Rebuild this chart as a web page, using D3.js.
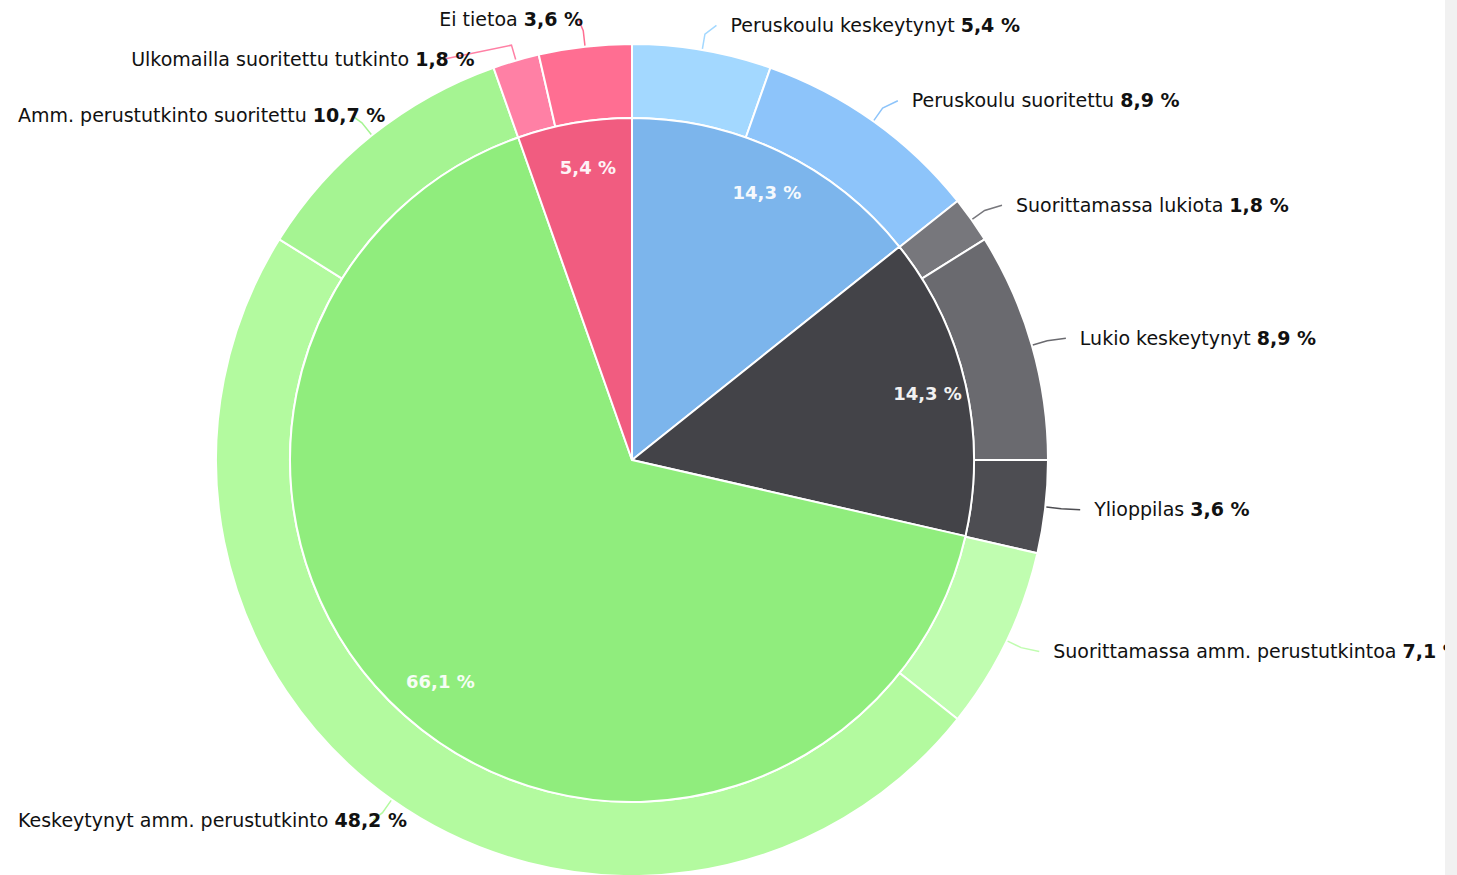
<!DOCTYPE html>
<html>
<head>
<meta charset="utf-8">
<script src="https://cdn.jsdelivr.net/npm/d3@7"></script>
<style>
  html, body { margin: 0; padding: 0; background: #fff; overflow: hidden; }
  svg { display: block; }
  text { font-family: "DejaVu Sans", Verdana, sans-serif; }
</style>
</head>
<body>
<svg id="chart" width="1457" height="875"></svg>
<script>
// ---- data ----
const innerNames = ["Peruskoulu", "Lukio", "Ammatillinen", "Muu"];
const innerValues = [14.3, 14.3, 66.1, 5.4];
const innerColors = ["#7cb5ec", "#434348", "#90ed7d", "#f15c80"];

const outerNames = [
  "Peruskoulu keskeytynyt", "Peruskoulu suoritettu",
  "Suorittamassa lukiota", "Lukio keskeytynyt", "Ylioppilas",
  "Suorittamassa amm. perustutkintoa", "Keskeytynyt amm. perustutkinto", "Amm. perustutkinto suoritettu",
  "Ulkomailla suoritettu tutkinto", "Ei tietoa"
];
const outerValues = [5.4, 8.9, 1.8, 8.9, 3.6, 7.1, 48.2, 10.7, 1.8, 3.6];
const outerColors = ["#a3d8ff", "#8dc4fa", "#77777c", "#6a6a6f", "#4d4d52",
                     "#c0fdb0", "#b3fa9f", "#a5f492", "#ff80a5", "#ff6e92"];

// ---- layout ----
const W = 1457, H = 875;
const cx = 632, cy = 460;
const rInner = 342, rOuter = 416, rLabel = 441;
const fontSize = 19, innerFontSize = 18;
const fmt = v => d3.format(".1f")(v).replace(".", ",") + " %";

const svg = d3.select("#chart");
const g = svg.append("g").attr("transform", `translate(${cx},${cy})`);

const pie = d3.pie().sort(null).value(d => d);
const innerArcs = pie(innerValues);
const outerArcs = pie(outerValues);

const arcIn = d3.arc().innerRadius(0).outerRadius(rInner);
const arcOut = d3.arc().innerRadius(rInner).outerRadius(rOuter);

g.selectAll("path.outer").data(outerArcs).join("path")
  .attr("class", "outer")
  .attr("d", arcOut)
  .attr("fill", (d, i) => outerColors[i])
  .attr("stroke", "#fff").attr("stroke-width", 2).attr("stroke-linejoin", "round");

g.selectAll("path.inner").data(innerArcs).join("path")
  .attr("class", "inner")
  .attr("d", arcIn)
  .attr("fill", (d, i) => innerColors[i])
  .attr("stroke", "#fff").attr("stroke-width", 2).attr("stroke-linejoin", "round");

// inner labels
const rInLab = 297;
g.selectAll("text.inlab").data(innerArcs).join("text")
  .attr("class", "inlab")
  .attr("x", d => Math.sin((d.startAngle + d.endAngle) / 2) * rInLab + 6)
  .attr("y", d => -Math.cos((d.startAngle + d.endAngle) / 2) * rInLab)
  .attr("dy", "0.35em")
  .attr("text-anchor", "middle")
  .attr("font-size", innerFontSize)
  .attr("font-weight", "bold")
  .attr("fill", "#ffffff")
  .attr("opacity", 0.93)
  .text(d => fmt(d.data));

// outer labels: natural positions + distribution
const labels = outerArcs.map((d, i) => {
  const a = (d.startAngle + d.endAngle) / 2;
  return {
    i, a,
    left: Math.sin(a) < 0,
    midX: cx + Math.sin(a) * rLabel,
    natY: cy - Math.cos(a) * rLabel
  };
});

function distribute(list, gap, minY, maxY) {
  list.sort((p, q) => p.natY - q.natY);
  let clusters = list.map(l => ({ items: [l] }));
  const place = c => {
    const n = c.items.length;
    const mean = d3.mean(c.items, l => l.natY);
    let start = mean - (n - 1) * gap / 2;
    start = Math.max(minY, Math.min(start, maxY - (n - 1) * gap));
    c.start = start; c.end = start + (n - 1) * gap;
  };
  clusters.forEach(place);
  let merged = true;
  while (merged) {
    merged = false;
    for (let k = 0; k < clusters.length - 1; k++) {
      if (clusters[k].end + gap > clusters[k + 1].start) {
        clusters[k].items = clusters[k].items.concat(clusters[k + 1].items);
        clusters.splice(k + 1, 1);
        place(clusters[k]);
        merged = true;
        break;
      }
    }
  }
  clusters.forEach(c => c.items.forEach((l, j) => { l.y = c.start + j * gap; }));
}
distribute(labels.filter(l => l.left), 40, 19, H - 19);
distribute(labels.filter(l => !l.left), 40, 19, H - 19);

labels.forEach(l => {
  const dy = l.y - cy;
  const half = Math.abs(dy) < rLabel ? Math.sqrt(rLabel * rLabel - dy * dy) : 0;
  if (l.left) {
    l.connX = Math.min(cx - half, l.midX);
  } else {
    l.connX = Math.max(cx + half, l.midX);
  }
});

const lg = svg.append("g");
// connectors
labels.forEach(l => {
  const p0 = [cx + Math.sin(l.a) * (rOuter + 1), cy - Math.cos(l.a) * (rOuter + 1)];
  const p1 = [cx + Math.sin(l.a) * 432, cy - Math.cos(l.a) * 432];
  const p2 = l.left ? [l.connX - 4, l.y] : [l.connX + 10, l.y];
  lg.append("path")
    .attr("d", d3.line()([p0, p1, p2]))
    .attr("fill", "none")
    .attr("stroke", outerColors[l.i])
    .attr("stroke-width", 1.5);
});

// label texts
labels.forEach(l => {
  const t = lg.append("text")
    .attr("y", l.y)
    .attr("dy", "0.35em")
    .attr("font-size", fontSize)
    .attr("fill", "#111");
  t.append("tspan").text(outerNames[l.i] + " ");
  t.append("tspan").attr("font-weight", "bold").text(fmt(outerValues[l.i]));
  if (l.left) {
    const w = t.node().getComputedTextLength();
    let end = Math.min(l.connX + 26, cx - 49);
    let start = end - w;
    if (start < 18) start = 18;
    t.attr("x", start);
  } else {
    t.attr("x", l.connX + 24);
  }
});

// right edge strip (scrollbar area)
svg.append("rect").attr("x", 1445).attr("y", 0).attr("width", 12).attr("height", H).attr("fill", "#f1f1f1");
</script>
</body>
</html>
